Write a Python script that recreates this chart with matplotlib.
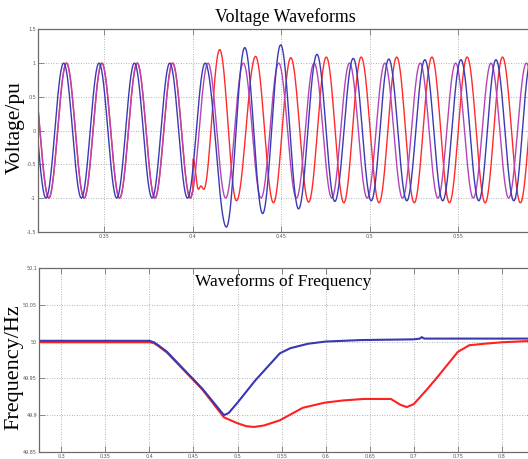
import numpy as np
import matplotlib
matplotlib.use("Agg")
import matplotlib.pyplot as plt

# voltage waveforms: extrema (time, value)
blue_t = [0.3070, 0.3170, 0.3270, 0.3370, 0.3470, 0.3570, 0.3670, 0.3770, 0.3870, 0.3970,
          0.4070, 0.4190, 0.4294, 0.4395, 0.4497, 0.4598, 0.4702, 0.4803, 0.4907, 0.5009,
          0.5108, 0.5210, 0.5312, 0.5413, 0.5516, 0.5617, 0.5714, 0.5815, 0.5912, 0.6012]
blue_v = [1, -1, 1, -1, 1, -1, 1, -1, 1, -1,
          1, -1.43, 1.23, -1.23, 1.27, -1.16, 1.13, -1.05, 1.07, -1.04,
          1.06, -1.04, 1.05, -1.04, 1.05, -1.04, 1.05, -1.04, 1.05, -1.04]

purple_t = [0.3086, 0.3186, 0.3286, 0.3386, 0.3486, 0.3586, 0.3686, 0.3786, 0.3886, 0.3986,
            0.4086, 0.4186, 0.4286, 0.4386, 0.4486, 0.4586, 0.4686, 0.4786, 0.4886, 0.4986,
            0.5086, 0.5186, 0.5286, 0.5386, 0.5486, 0.5586, 0.5686, 0.5786, 0.5886, 0.5986, 0.6086]
purple_v = [1, -1, 1, -1, 1, -1, 1, -1, 1, -1,
            1, -1, 1, -1, 1, -1, 1, -1, 1, -1,
            1, -1, 1, -1, 1, -1, 1, -1, 1, -1, 1]

red_t = [0.3086, 0.3186, 0.3286, 0.3386, 0.3486, 0.3586, 0.3686, 0.3786, 0.3886, 0.3986,
         0.4000, 0.4002, 0.4032, 0.4046, 0.4062, 0.4152, 0.4247, 0.4355, 0.4456, 0.4554,
         0.4655, 0.4755, 0.4854, 0.4952, 0.5053, 0.5153, 0.5252, 0.5352, 0.5451, 0.5551,
         0.5653, 0.5751, 0.5852, 0.5951, 0.6050]
red_v = [1, -1, 1, -1, 1, -1, 1, -1, 1, -1,
         -0.90, -0.42, -0.87, -0.82, -0.87, 1.20, -1.04, 1.10, -1.07, 1.08,
         -1.06, 1.09, -1.07, 1.09, -1.07, 1.09, -1.07, 1.09, -1.07, 1.09,
         -1.07, 1.09, -1.07, 1.09, -1.07]

# frequency curves
fb_t = [0.275, 0.400, 0.405, 0.410, 0.420, 0.436, 0.460, 0.4846, 0.490, 0.500, 0.520,
        0.548, 0.560, 0.580, 0.600, 0.640, 0.700, 0.707, 0.709, 0.712, 0.750, 0.836]
fb_v = [50.001, 50.001, 49.999, 49.995, 49.986, 49.966, 49.936, 49.900, 49.903, 49.917, 49.947,
        49.984, 49.991, 49.997, 50.000, 50.002, 50.003, 50.004, 50.006, 50.004, 50.004, 50.004]

fr_t = [0.275, 0.400, 0.405, 0.410, 0.420, 0.436, 0.460, 0.4846, 0.500, 0.510, 0.519, 0.530,
        0.548, 0.574, 0.599, 0.620, 0.643, 0.674, 0.685, 0.692, 0.700, 0.715, 0.727,
        0.750, 0.763, 0.780, 0.800, 0.836]
fr_v = [49.999, 49.999, 49.998, 49.994, 49.985, 49.965, 49.935, 49.897, 49.889, 49.885, 49.884, 49.886,
        49.893, 49.910, 49.917, 49.920, 49.922, 49.922, 49.914, 49.911, 49.915, 49.935, 49.952,
        49.986, 49.995, 49.997, 49.999, 50.001]

v_xticks = [0.35, 0.4, 0.45, 0.5, 0.55]
v_yticks = [-1.5, -1, -0.5, 0, 0.5, 1, 1.5]
f_xticks = [0.3, 0.35, 0.4, 0.45, 0.5, 0.55, 0.6, 0.65, 0.7, 0.75, 0.8]
f_yticks = [49.85, 49.9, 49.95, 50, 50.05, 50.1]


def smooth_wave(ts, vs, n=40):
    # half-cosine segments between the read extrema
    xs, ys = [], []
    for i in range(len(ts) - 1):
        s = np.linspace(0, 1, n, endpoint=False)
        xs.append(ts[i] + (ts[i + 1] - ts[i]) * s)
        ys.append(vs[i] + (vs[i + 1] - vs[i]) * (1 - np.cos(np.pi * s)) / 2)
    xs.append([ts[-1]])
    ys.append([vs[-1]])
    return np.concatenate(xs), np.concatenate(ys)


def style_axes(ax, xticks, yticks):
    ax.set_xticks(xticks)
    ax.set_yticks(yticks)
    ax.set_xticklabels([f"{v:g}" for v in xticks])
    ax.set_yticklabels([f"{v:g}" for v in yticks])
    ax.grid(True, linestyle=(0, (1, 2)), color="#9a9a9a", linewidth=0.6)
    ax.tick_params(direction="in", length=4, width=0.6, color="#777777",
                   labelsize=3.5, labelcolor="#555555", pad=1.5,
                   top=True, right=True)
    for sp in ax.spines.values():
        sp.set_color("#6a6a6a")
        sp.set_linewidth(0.9)


fig = plt.figure(figsize=(5.28, 4.59), dpi=100)
serif = ["Liberation Serif", "DejaVu Serif"]

ax1 = fig.add_axes([0.072, 0.495, 0.938, 0.441])
x, y = smooth_wave(red_t, red_v)
ax1.plot(x, y, color="#ff2a2a", lw=1.0)
x, y = smooth_wave(purple_t, purple_v)
ax1.plot(x, y, color="#b544b8", lw=1.0)
x, y = smooth_wave(blue_t, blue_v)
ax1.plot(x, y, color="#3a3ab4", lw=1.0)
ax1.set_xlim(0.3125, 0.5925)
ax1.set_ylim(-1.5, 1.5)
style_axes(ax1, v_xticks, v_yticks)

ax2 = fig.add_axes([0.074, 0.0153, 0.936, 0.401])
ax2.plot(fr_t, fr_v, color="#ff2020", lw=1.5)
ax2.plot(fb_t, fb_v, color="#3838b0", lw=1.5)
ax2.set_xlim(0.2748, 0.8356)
ax2.set_ylim(49.85, 50.1)
style_axes(ax2, f_xticks, f_yticks)

fig.text(285 / 528, 1 - 17 / 459, "Voltage Waveforms", family=serif,
         fontsize=12.9, ha="center", va="center")
fig.text(283 / 528, 1 - 282 / 459, "Waveforms of Frequency", family=serif,
         fontsize=12.5, ha="center", va="center")
fig.text(15 / 528, 1 - 128 / 459, "Voltage/pu", family=serif,
         fontsize=15.5, ha="center", va="center", rotation=90)
fig.text(14 / 528, 1 - 367 / 459, "Frequency/Hz", family=serif,
         fontsize=16, ha="center", va="center", rotation=90)

fig.savefig("out.png", dpi=100)
